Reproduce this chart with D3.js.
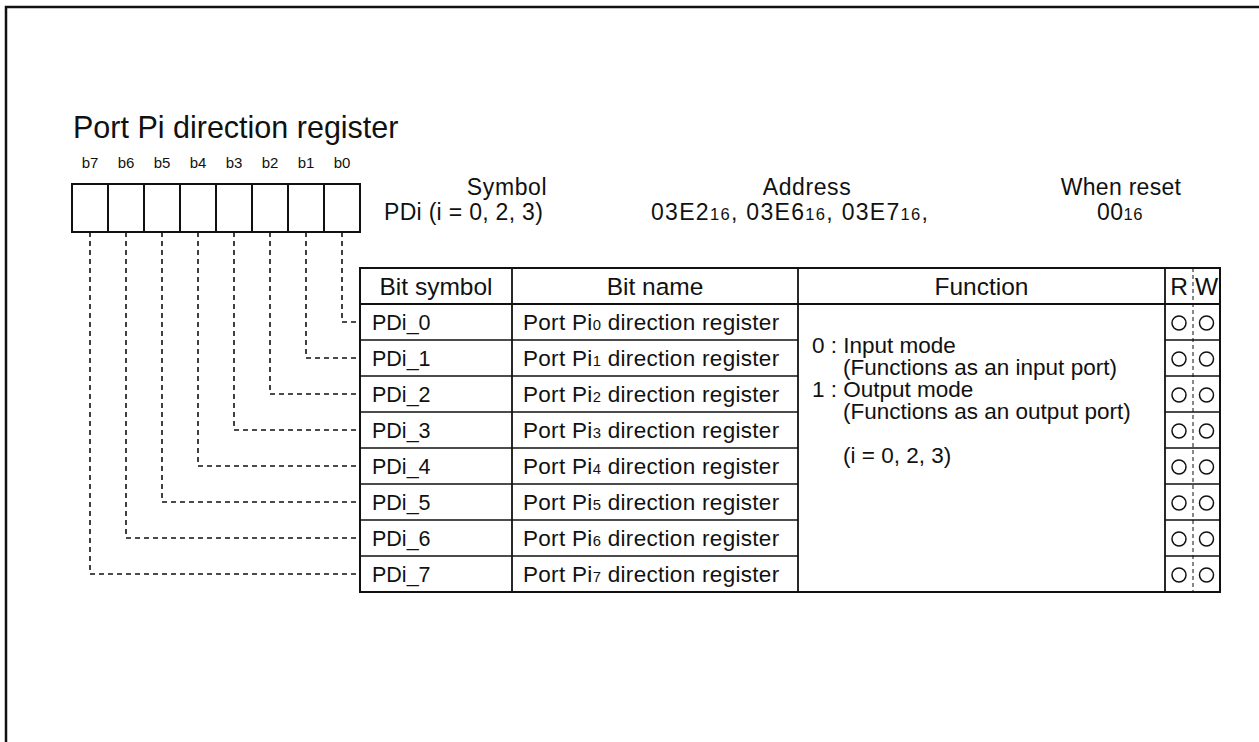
<!DOCTYPE html>
<html><head><meta charset="utf-8">
<script src="https://cdn.jsdelivr.net/npm/d3@7"></script>
<style>
html,body{margin:0;padding:0;background:#fff;}
svg{display:block;font-family:"Liberation Sans",Arial,Helvetica,sans-serif;fill:#111;}
</style></head>
<body>
<svg id="c" width="1259" height="742"></svg>
<script>
// ---- data ----
const title = "Port Pi direction register";
const bitLabels = ["b7","b6","b5","b4","b3","b2","b1","b0"];
const bitSymbols = ["PDi_0","PDi_1","PDi_2","PDi_3","PDi_4","PDi_5","PDi_6","PDi_7"];
const bitNameSubs = ["0","1","2","3","4","5","6","7"];
const headers = ["Bit symbol","Bit name","Function","R","W"];
const symbolLabel = ["Symbol", "PDi (i = 0, 2, 3)"];
const addressValues = ["03E2","03E6","03E7"];
const resetValue = "00";
const functionLines = [
  {t:"0 : Input mode", indent:0},
  {t:"(Functions as an input port)", indent:1},
  {t:"1 : Output mode", indent:0},
  {t:"(Functions as an output port)", indent:1},
  {t:"(i = 0, 2, 3)", indent:1, gap:true}
];
const rwMarks = bitSymbols.map(() => ["O","O"]);

// ---- layout ----
const svg = d3.select("#c");
const HF = 24.5;   // table header font
const TF = 23;     // top info font
const RF = 22.5;   // row font

// outer frame
svg.append("path").attr("d","M6,742V7H1259").attr("fill","none").attr("stroke","#111").attr("stroke-width",2.5);

svg.append("text").attr("x",73).attr("y",138).attr("font-size",30.5).text(title);

// bit boxes
const xBits = d3.scaleBand().domain(bitLabels).range([72,360]);
const boxTop = 184, boxBot = 232;
svg.selectAll("text.bl").data(bitLabels).join("text").attr("class","bl")
  .attr("x",d=>xBits(d)+xBits.bandwidth()/2).attr("y",168).attr("text-anchor","middle")
  .attr("font-size",15).text(d=>d);
svg.selectAll("rect.bb").data(bitLabels).join("rect").attr("class","bb")
  .attr("x",d=>xBits(d)).attr("y",boxTop).attr("width",xBits.bandwidth()).attr("height",boxBot-boxTop)
  .attr("fill","none").attr("stroke","#111").attr("stroke-width",2);

// table columns
const colEdges = [360,512,798,1165,1193,1220];
const tableTop = 268, headH = 36;
const yRows = d3.scaleBand().domain(bitSymbols).range([tableTop+headH, tableTop+headH+36*bitSymbols.length]);
const tableBot = yRows.range()[1];

// dashed connectors
bitLabels.forEach((b) => {
  const idx = +b.slice(1);
  const x = xBits(b)+xBits.bandwidth()/2;
  const y = yRows(bitSymbols[idx]) + yRows.bandwidth()/2;
  svg.append("path").attr("d",`M${x},${boxBot}V${y}H${colEdges[0]}`)
    .attr("fill","none").attr("stroke","#111").attr("stroke-width",1.6).attr("stroke-dasharray","5,4");
});

// header texts
const hdrY1 = 195, hdrY2 = 220;
svg.append("text").attr("x",507).attr("y",hdrY1).attr("text-anchor","middle").attr("font-size",TF).attr("letter-spacing",0.6).text(symbolLabel[0]);
svg.append("text").attr("x",384).attr("y",hdrY2).attr("font-size",TF).attr("letter-spacing",0.3).text(symbolLabel[1]);
svg.append("text").attr("x",807).attr("y",hdrY1).attr("text-anchor","middle").attr("font-size",TF).attr("letter-spacing",0.6).text("Address");
const at = svg.append("text").attr("x",651).attr("y",hdrY2).attr("font-size",TF).attr("letter-spacing",1.3);
addressValues.forEach((a,i) => {
  at.append("tspan").text((i?" ":"")+a);
  at.append("tspan").attr("font-size",TF*0.72).text("16");
  at.append("tspan").text(",");
});
svg.append("text").attr("x",1121).attr("y",hdrY1).attr("text-anchor","middle").attr("font-size",TF).attr("letter-spacing",0.3).text("When reset");
const rt = svg.append("text").attr("x",1097).attr("y",hdrY2).attr("font-size",TF).attr("letter-spacing",0.5);
rt.append("tspan").text(resetValue);
rt.append("tspan").attr("font-size",TF*0.72).text("16");

// table header
headers.forEach((h,i) => {
  const cx = (colEdges[i]+colEdges[i+1])/2;
  svg.append("text").attr("x",cx).attr("y",tableTop+headH/2+9).attr("text-anchor","middle").attr("font-size",HF).text(h);
});

// rows
const g = svg.append("g");
bitSymbols.forEach((s,i) => {
  const y = yRows(s), cy = y + yRows.bandwidth()/2;
  g.append("text").attr("x",colEdges[0]+12).attr("y",cy+8).attr("font-size",RF-1).text(s);
  const t = g.append("text").attr("x",colEdges[1]+11).attr("y",cy+8).attr("font-size",RF).attr("letter-spacing",0.3);
  t.append("tspan").text("Port Pi");
  t.append("tspan").attr("font-size",RF*0.66).text(bitNameSubs[i]);
  t.append("tspan").text(" direction register");
  rwMarks[i].forEach((m,j) => {
    g.append("circle").attr("cx",(colEdges[3+j]+colEdges[4+j])/2).attr("cy",cy+1).attr("r",7)
      .attr("fill","none").attr("stroke","#111").attr("stroke-width",1.5);
  });
  if (i>0) {
    [[0,2],[3,5]].forEach(([a,b]) => {
      g.append("line").attr("x1",colEdges[a]).attr("x2",colEdges[b]).attr("y1",y).attr("y2",y)
        .attr("stroke","#111").attr("stroke-width",1.5);
    });
  }
});

// function text
let fy = 353;
functionLines.forEach((l) => {
  if (l.gap) fy += 22;
  svg.append("text").attr("x",l.indent?843:812).attr("y",fy).attr("font-size",RF).text(l.t);
  fy += 22;
});

// table grid
svg.append("rect").attr("x",colEdges[0]).attr("y",tableTop).attr("width",colEdges[5]-colEdges[0]).attr("height",tableBot-tableTop)
  .attr("fill","none").attr("stroke","#111").attr("stroke-width",2);
svg.append("line").attr("x1",colEdges[0]).attr("x2",colEdges[5]).attr("y1",tableTop+headH).attr("y2",tableTop+headH)
  .attr("stroke","#111").attr("stroke-width",1.8);
[1,2,3].forEach(i => svg.append("line").attr("x1",colEdges[i]).attr("x2",colEdges[i]).attr("y1",tableTop).attr("y2",tableBot)
  .attr("stroke","#111").attr("stroke-width",1.8));
svg.append("line").attr("x1",colEdges[4]).attr("x2",colEdges[4]).attr("y1",tableTop).attr("y2",tableBot)
  .attr("stroke","#111").attr("stroke-width",1).attr("stroke-dasharray","4,3");
</script>
</body></html>
